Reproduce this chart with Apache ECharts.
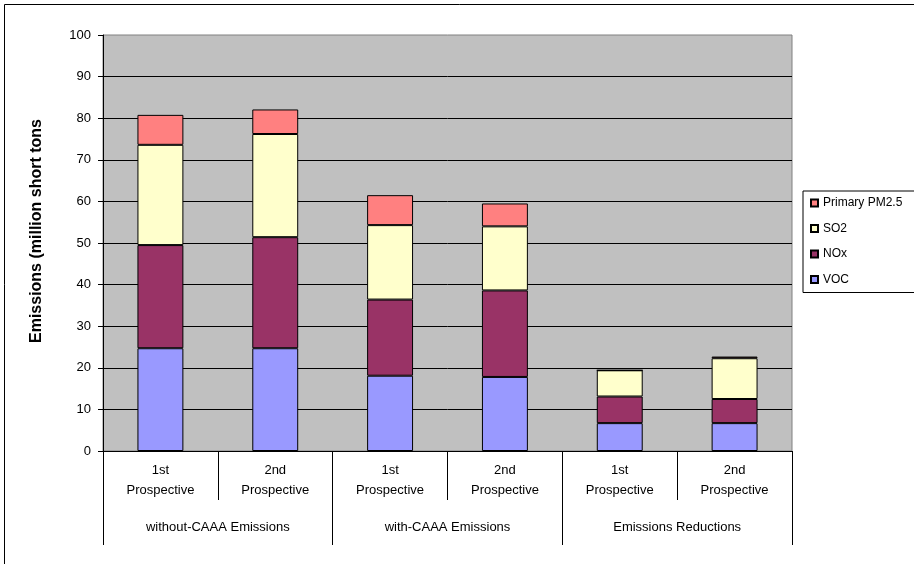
<!DOCTYPE html>
<html>
<head>
<meta charset="utf-8">
<script src="https://cdn.jsdelivr.net/npm/echarts@6/dist/echarts.min.js"></script>
<style>html,body{margin:0;padding:0;background:#fff;}#c{width:914px;height:564px;}</style>
</head>
<body>
<div id="c"></div>
<script>
const categories = ['1st\nProspective','2nd\nProspective','1st\nProspective','2nd\nProspective','1st\nProspective','2nd\nProspective'];
const groups = ['without-CAAA Emissions','with-CAAA Emissions','Emissions Reductions'];
const yTicks = [0,10,20,30,40,50,60,70,80,90,100];
const voc  = [24.7, 24.7, 18.1, 17.8, 6.7, 6.7];
const nox  = [24.8, 26.7, 18.3, 20.8, 6.4, 5.8];
const so2  = [24.1, 24.8, 17.9, 15.4, 6.3, 9.8];
const pm25 = [7.2, 5.9, 7.2, 5.5, 0.0, 0.4];
const FONT = 'Liberation Sans, Arial, sans-serif';

const chart = echarts.init(document.getElementById('c'));
function bar(name, data, color) {
  return {name, type:'bar', stack:'total', data, barWidth:'40%', xAxisIndex:0,
    itemStyle:{color, borderColor:'#000', borderWidth:1}, emphasis:{disabled:true}};
}
chart.setOption({
  animation:false,
  textStyle:{fontFamily:FONT},
  grid:{left:103, top:35, right:122, bottom:113, show:true, backgroundColor:'#C0C0C0', borderColor:'#808080', borderWidth:1},
  legend:{orient:'vertical', left:803, top:191, data:['Primary PM2.5','SO2','NOx','VOC'],
    itemWidth:7, itemHeight:7, itemGap:13.5, icon:'rect', borderColor:'#000', borderWidth:1,
    backgroundColor:'#fff', padding:[6,40,7,7], textStyle:{fontSize:12, color:'#000', fontFamily:FONT}},
  xAxis:[
    {type:'category', data:categories, position:'bottom',
      axisLine:{lineStyle:{color:'#000', width:1}},
      axisTick:{show:true, length:49, interval:0, lineStyle:{color:'#000'}},
      axisLabel:{interval:0, fontSize:13, color:'#000', lineHeight:20, margin:9, fontFamily:FONT}},
    {type:'category', data:groups, position:'bottom',
      axisLine:{show:false},
      axisTick:{show:true, length:94, interval:0, lineStyle:{color:'#000'}},
      axisLabel:{interval:0, fontSize:13, color:'#000', margin:70, fontFamily:FONT}}
  ],
  yAxis:{type:'value', min:yTicks[0], max:yTicks[yTicks.length-1], interval:10,
    axisLine:{show:true, lineStyle:{color:'#000'}},
    axisTick:{show:true, length:5, lineStyle:{color:'#000'}},
    axisLabel:{fontSize:13, color:'#000', margin:12, fontFamily:FONT},
    splitLine:{show:true, showMaxLine:false, lineStyle:{color:'#000', width:1}}},
  graphic:[
    {type:'rect', shape:{x:4.5, y:4.5, width:1200, height:1200}, style:{fill:null, stroke:'#000', lineWidth:1}, z:-10, silent:true},
    {type:'text', x:37, y:231, rotation:Math.PI/2, style:{text:'Emissions (million short tons', font:'bold 16px '+FONT, fill:'#000', align:'center', verticalAlign:'middle'}}
  ],
  series:[
    bar('VOC', voc, '#9999FF'),
    bar('NOx', nox, '#993366'),
    bar('SO2', so2, '#FFFFCC'),
    bar('Primary PM2.5', pm25, '#FF8080')
  ]
});
</script>
</body>
</html>
